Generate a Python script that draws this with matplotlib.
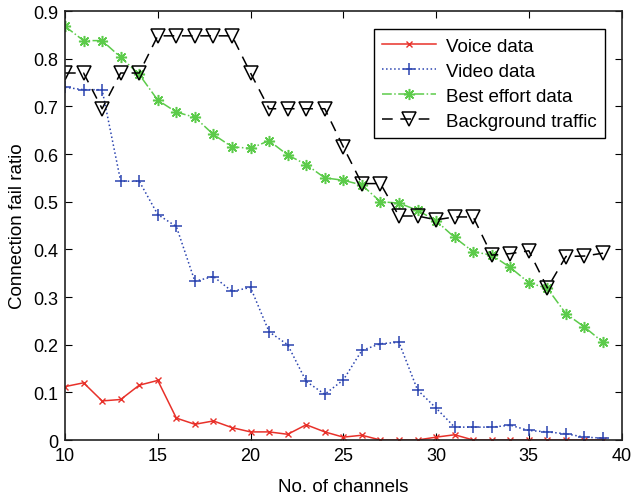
import numpy as np
import matplotlib
matplotlib.use("Agg")
import matplotlib.pyplot as plt

plt.rcParams['font.family'] = ['Liberation Sans', 'DejaVu Sans']

######################### data #######################################

channels = list(range(10, 40))

voice = [0.112, 0.120, 0.082, 0.085, 0.115, 0.125, 0.046, 0.033, 0.040, 0.026,
         0.017, 0.017, 0.012, 0.032, 0.017, 0.006, 0.010, 0.0, 0.0, 0.0,
         0.006, 0.011, 0.0, 0.0, 0.0, 0.0, 0.0, 0.0, 0.0, 0.0]

video = [0.740, 0.735, 0.735, 0.543, 0.543, 0.473, 0.448, 0.333, 0.343, 0.312,
         0.320, 0.227, 0.200, 0.123, 0.096, 0.126, 0.188, 0.202, 0.205, 0.105,
         0.067, 0.027, 0.027, 0.027, 0.031, 0.020, 0.017, 0.013, 0.006, 0.004]

best_effort = [0.868, 0.838, 0.838, 0.803, 0.767, 0.713, 0.688, 0.677, 0.641, 0.615,
               0.612, 0.628, 0.598, 0.578, 0.550, 0.545, 0.535, 0.500, 0.497, 0.482,
               0.460, 0.425, 0.395, 0.388, 0.362, 0.330, 0.318, 0.265, 0.237, 0.205]

background = [0.770, 0.770, 0.695, 0.770, 0.770, 0.848, 0.848, 0.848, 0.848, 0.848,
              0.770, 0.695, 0.695, 0.695, 0.695, 0.615, 0.538, 0.538, 0.470, 0.470,
              0.462, 0.468, 0.468, 0.388, 0.391, 0.397, 0.319, 0.385, 0.386, 0.392]

x_ticks = [10, 15, 20, 25, 30, 35, 40]
y_ticks = [0, 0.1, 0.2, 0.3, 0.4, 0.5, 0.6, 0.7, 0.8, 0.9]

######################### plot #######################################

fig = plt.figure(figsize=(6.33, 5.02), dpi=100)
ax = fig.add_axes([0.1027, 0.1215, 0.8793, 0.8545])

asterisk = (8, 2, 0)
ax.plot(channels, voice, color='#e8312a', linestyle='-', linewidth=1.1,
        marker='x', markersize=4, label='Voice data')
ax.plot(channels, video, color='#2b44b0', linestyle=':', linewidth=1.1,
        marker='+', markersize=9, markeredgewidth=1.1, label='Video data')
ax.plot(channels, best_effort, color='#5ccb4a', linestyle='-.', linewidth=1.1,
        marker=asterisk, markersize=8, markeredgewidth=1.1, label='Best effort data')
ax.plot(channels, background, color='black', linestyle=(0, (7, 5)), linewidth=1.1,
        marker='v', markersize=10, markerfacecolor='none', markeredgewidth=1.1,
        label='Background traffic')

ax.set_xlim(10, 40)
ax.set_ylim(0, 0.9)
ax.set_xticks(x_ticks)
ax.set_yticks(y_ticks)
ax.set_yticklabels(['0', '0.1', '0.2', '0.3', '0.4', '0.5', '0.6', '0.7', '0.8', '0.9'])
ax.tick_params(direction='in', top=True, right=True, labelsize=13, length=5, pad=5)
for s in ax.spines.values():
    s.set_linewidth(1.2)
    s.set_color('#222222')

ax.set_xlabel('No. of channels', fontsize=13.5, labelpad=10)
ax.set_ylabel('Connection fail ratio', fontsize=13.5, labelpad=5)

leg = ax.legend(loc='upper right', bbox_to_anchor=(0.970, 0.958), borderaxespad=0,
                fontsize=13.5, fancybox=False, framealpha=1, edgecolor='black',
                handlelength=2.9, handletextpad=0.5, labelspacing=0.42,
                borderpad=0.45)
leg.get_frame().set_linewidth(1.0)

fig.savefig('out.png', dpi=100)
